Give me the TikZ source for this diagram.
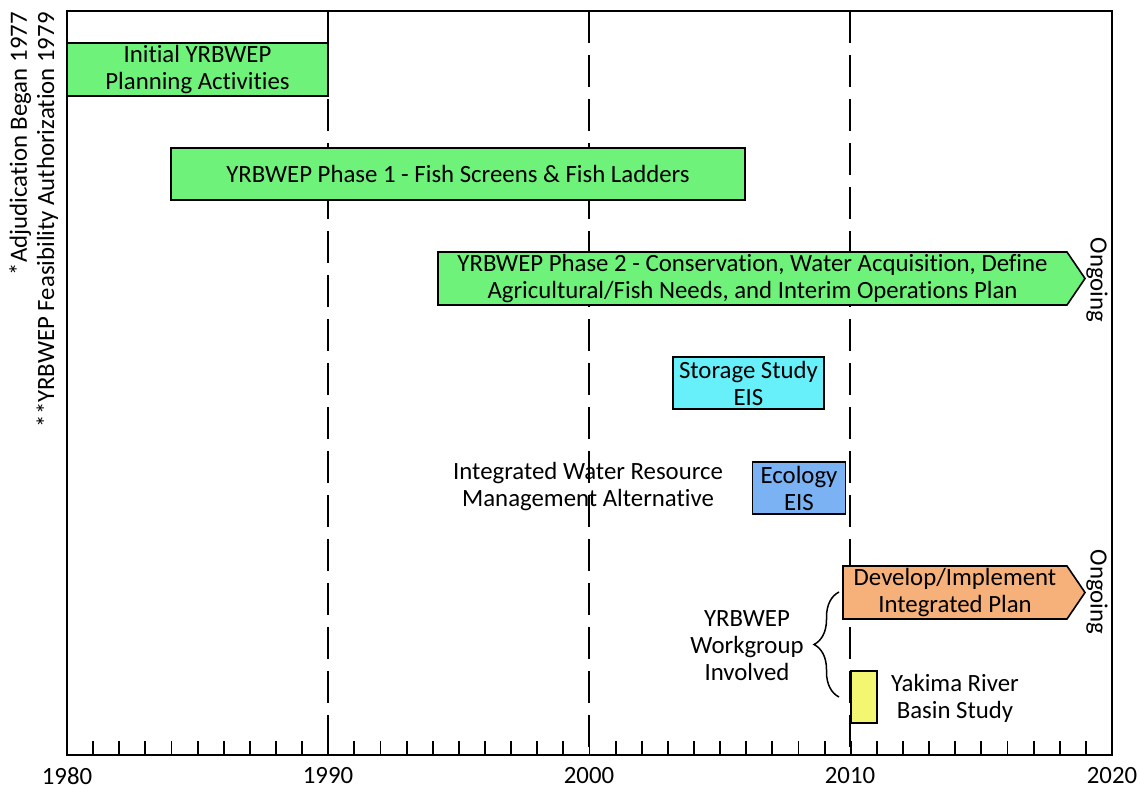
\documentclass[tikz,border=0pt]{standalone}
\usepackage{fontspec}
\setmainfont{Carlito}[Ligatures={NoCommon}]
\usetikzlibrary{decorations.pathreplacing}
\definecolor{gfill}{RGB}{110,242,122}
\definecolor{cfill}{RGB}{104,240,250}
\definecolor{bfill}{RGB}{122,178,244}
\definecolor{ofill}{RGB}{246,176,122}
\definecolor{yfill}{RGB}{242,246,112}
\begin{document}
\begin{tikzpicture}[x=1pt,y=-1pt,
  font=\fontsize{24.8}{27}\selectfont,
  bar/.style={draw=black, line width=1.6pt, align=center, inner sep=0pt},
  lbl/.style={align=center, inner sep=0pt},
  decline/.style={line width=1.8pt, dash pattern=on 32pt off 12pt},
  axisline/.style={line width=2pt},
  tickline/.style={line width=1.8pt}]
\useasboundingbox[fill=white] (0,0) rectangle (1140,788);
% decade dashed lines
\foreach \xx/\nm in {328/d1990,589/d2000,850/d2010}{
  \coordinate (\nm t) at (\xx,11);
  \coordinate (\nm b) at (\xx,755);
  \draw[decline] (\nm t) -- (\nm b);
}
% ticks
\foreach \yr in {1981,...,2019}{
  \coordinate (tk\yr) at ({67+26.125*(\yr-1980)},755);
  \draw[tickline] (tk\yr) -- ++(0,-14);
}
% bars
\node[bar, fill=gfill, minimum width=261pt, minimum height=53pt] (init) at (197.5,69.5) {Initial YRBWEP\\Planning Activities};
\node[bar, fill=gfill, minimum width=574pt, minimum height=52pt] (ph1) at (458,174) {YRBWEP Phase 1 - Fish Screens \& Fish Ladders};
\draw[line width=1.6pt, fill=gfill] (438,252) -- (1067,252) -- (1085,278.5) -- (1067,305) -- (438,305) -- cycle;
\node[lbl] (ph2) at (752.5,278.5) {YRBWEP Phase 2 - Conservation, Water Acquisition, Define\\Agricultural/Fish Needs, and Interim Operations Plan};
\node[bar, fill=cfill, minimum width=151pt, minimum height=52pt] (stor) at (748.5,383) {Storage Study\\EIS};
\node[bar, fill=bfill, minimum width=93pt, minimum height=52pt] (eco) at (799,488) {Ecology\\EIS};
\node[lbl] (iwrma) at (588,487) {Integrated Water Resource\\Management Alternative};
\draw[line width=1.6pt, fill=ofill] (843,566) -- (1067,566) -- (1085,592.5) -- (1067,619) -- (843,619) -- cycle;
\node[lbl] (dev) at (955,592.5) {Develop/Implement\\Integrated Plan};
\node[bar, fill=yfill, minimum width=26pt, minimum height=52pt] (yak) at (864,697) {};
\node[lbl] (yakt) at (955,698) {Yakima River\\Basin Study};
\node[lbl] (wg) at (747,646) {YRBWEP\\Workgroup\\Involved};
\coordinate (brb) at (839,697);
\coordinate (brt) at (839,592);
\draw[line width=1.5pt, decorate, decoration={brace, amplitude=25pt}] (brb) -- (brt);
% ongoing
\node[lbl, rotate=-90] (og1) at (1097,280) {Ongoing};
\node[lbl, rotate=-90] (og2) at (1097,592) {Ongoing};
% left notes
\node[inner sep=0pt, rotate=90, anchor=base east] (adj) at (27,12) {*Adjudication Began 1977};
\node[inner sep=0pt, rotate=90, anchor=base east] (feas) at (54,12) {**YRBWEP Feasibility Authorization 1979};
% frame
\draw[axisline] (67,11) rectangle (1112,755);
% year labels
\foreach \yr/\xx in {1980/67,1990/328,2000/589,2010/850,2020/1112}{
  \node[lbl] (y\yr) at (\xx,776) {\yr};
}
\end{tikzpicture}
\end{document}
